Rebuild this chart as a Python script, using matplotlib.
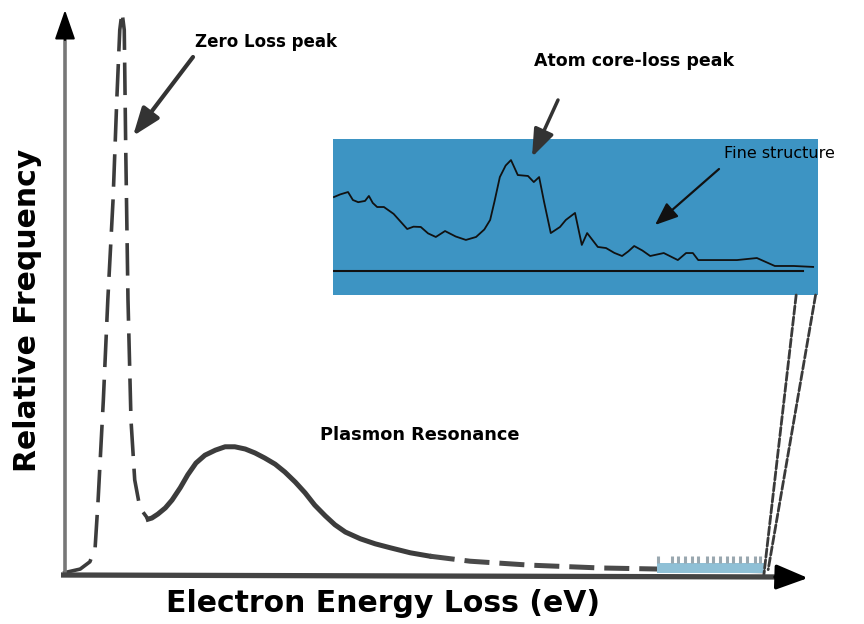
import matplotlib
matplotlib.use("Agg")
import matplotlib.pyplot as plt
from matplotlib.patches import Rectangle, ConnectionPatch

W, H = 864, 624

# low-loss part: zero-loss peak
zl_energy = [0.0, 2.3, 3.6, 4.3, 4.7, 5.4, 6.0, 6.7, 7.2, 7.6, 7.9,
             8.2, 8.4, 8.7, 9.1, 9.6, 10.3, 11.4]
zl_counts = [0.0, 0.7, 2.0, 4.5, 13.0, 30.8, 48.7, 66.5, 84.3, 96.8, 100.0,
             96.8, 75.4, 48.7, 27.3, 16.6, 11.6, 9.6]

# plasmon resonance hump
pl_energy = [11.4, 11.9, 12.7, 13.7, 14.6, 15.7, 16.7, 17.8, 19.0, 20.4,
             21.7, 23.0, 24.4, 25.7, 27.0, 28.4, 29.7, 31.1, 32.4, 33.7,
             35.1, 36.4, 37.8, 39.8, 41.8, 43.8, 46.5, 49.1]
pl_counts = [9.6, 9.8, 10.5, 11.6, 13.0, 15.2, 17.5, 19.6, 21.0, 21.9,
             22.5, 22.5, 22.1, 21.4, 20.5, 19.4, 18.0, 16.2, 14.3, 12.1,
             10.2, 8.6, 7.3, 6.1, 5.2, 4.5, 3.6, 3.0]

# long tail towards the core-loss edge
tail_energy = [49.1, 54.5, 62.5, 71.9, 79.9, 94.0]
tail_counts = [3.0, 2.1, 1.4, 0.9, 0.7, 0.4]

# zoomed core-loss region (inset units)
core_energy = [0.2, 1.5, 3.1, 4.1, 5.2, 6.6, 7.4, 8.2, 9.1, 10.5, 12.5,
               15.3, 16.6, 18.1, 19.6, 21.2, 23.1, 25.3, 27.4, 29.5, 31.2,
               32.4, 33.3, 34.4, 35.6, 36.7, 38.1, 40.2, 41.4, 42.5, 43.5,
               44.9, 46.8, 48.0, 49.9, 51.3, 52.4, 54.6, 56.3, 58.0, 59.6,
               60.9, 62.1, 63.8, 65.4, 68.2, 71.1, 72.8, 74.2, 75.3, 79.0,
               83.3, 87.4, 91.1, 95.0, 99.0]
core_counts = [62.8, 64.5, 66.0, 60.9, 59.5, 60.3, 63.5, 59.0, 56.4, 56.4,
               52.0, 42.3, 43.8, 43.6, 39.5, 37.2, 41.0, 37.5, 35.3, 37.2,
               42.0, 48.1, 60.0, 75.6, 83.0, 86.5, 76.9, 76.3, 72.4, 75.6,
               60.0, 39.7, 43.6, 48.1, 52.6, 32.1, 39.7, 30.8, 30.1, 27.0,
               25.0, 28.0, 31.4, 28.5, 25.0, 26.9, 22.4, 26.9, 26.9, 22.4,
               22.4, 22.4, 23.7, 18.6, 18.6, 18.0]
core_baseline = 15.4

# highlighted energy window on the main axis
window = (79.5, 93.8)
window_ticks = [79.7, 81.5, 82.3, 83.3, 84.2, 85.0, 86.2, 87.0, 88.0, 88.9,
                89.7, 90.6, 91.6, 92.6, 93.3]

fig = plt.figure(figsize=(W / 100, H / 100), dpi=100)
fig.patch.set_facecolor("white")

ax = fig.add_axes([63 / W, (H - 573) / H, 747 / W, 561 / H])
ax.set_xlim(0, 100)
ax.set_ylim(0, 100)
ax.axis("off")

curve = "#3c3c3c"
ax.plot(zl_energy, zl_counts, color=curve, lw=2.6, ls=(0, (9, 3.5)),
        solid_capstyle="butt", clip_on=False)
ax.plot(pl_energy, pl_counts, color=curve, lw=3.6, clip_on=False,
        solid_joinstyle="round")
ax.plot(tail_energy, tail_counts, color="#4a4a4a", lw=3.6,
        ls=(0, (5, 2)), clip_on=False)

# energy window and its little spectrum
ax.add_patch(Rectangle((window[0], 0), window[1] - window[0], 1.8,
                       facecolor="#8fc0d6", edgecolor="none", zorder=3))
ax.vlines(window_ticks, 1.8, 3.0, color="#9aa8b0", lw=2.2, zorder=3)

# inset: core-loss edge
ins = fig.add_axes([333 / W, (H - 295) / H, 485 / W, 156 / H])
ins.set_xlim(0, 100)
ins.set_ylim(0, 100)
ins.set_facecolor("#3d94c3")
ins.set_xticks([])
ins.set_yticks([])
for s in ins.spines.values():
    s.set_visible(False)
ins.plot(core_energy, core_counts, color="#111111", lw=1.3)
ins.axhline(core_baseline, xmin=0, xmax=0.97, color="#111111", lw=1.5)

for xa, xb, yb in [(95.5, 93.8, -0.6), (99.5, 94.4, 0.6)]:
    con = ConnectionPatch(xyA=(xa, 0), coordsA=ins.transData,
                          xyB=(xb, yb), coordsB=ax.transData,
                          color="#3a3a3a", lw=2.0, ls=(0, (3, 1)))
    fig.add_artist(con)

# overlay in pixel units for axes arrows, labels and pointers
top = fig.add_axes([0, 0, 1, 1], zorder=5)
top.set_xlim(0, W)
top.set_ylim(H, 0)
top.axis("off")
top.patch.set_alpha(0)


def arrow(start, end, color, lw, hl=1.2, hw=0.45):
    top.annotate("", xy=end, xytext=start,
                 arrowprops=dict(arrowstyle=f"-|>,head_length={hl},head_width={hw}",
                                 color=color, lw=lw, mutation_scale=14,
                                 shrinkA=0, shrinkB=0))


# axis lines in gray, heads in black
top.plot([65, 65], [575, 30], color="#777777", lw=2.6, solid_capstyle="butt")
arrow((65, 40), (65, 10), "black", 1.5, 1.3, 0.45)
top.plot([61, 785], [575, 577], color="#444444", lw=3.8, solid_capstyle="butt")
arrow((775, 577), (808, 578), "black", 2.5, 1.4, 0.55)

top.text(383, 604, "Electron Energy Loss (eV)", ha="center", va="center",
         fontsize=21.5, fontweight="bold", color="black")
top.text(28, 310, "Relative Frequency", ha="center", va="center",
         rotation=90, fontsize=21.5, fontweight="bold", color="black")

arrow((193, 57), (133, 136), "#333333", 3)
top.text(195, 42, "Zero Loss peak", ha="left", va="center",
         fontsize=12, fontweight="bold")

arrow((558, 100), (532, 157), "#333333", 2.5)
top.text(634, 61, "Atom core-loss peak", ha="center", va="center",
         fontsize=12.5, fontweight="bold")

arrow((719, 169), (655, 225), "#111111", 1.6, 1.0, 0.4)
top.text(724, 153, "Fine structure", ha="left", va="center", fontsize=11.5)

top.text(420, 435, "Plasmon Resonance", ha="center", va="center",
         fontsize=12.8, fontweight="bold")

fig.savefig("out.png", dpi=100)
